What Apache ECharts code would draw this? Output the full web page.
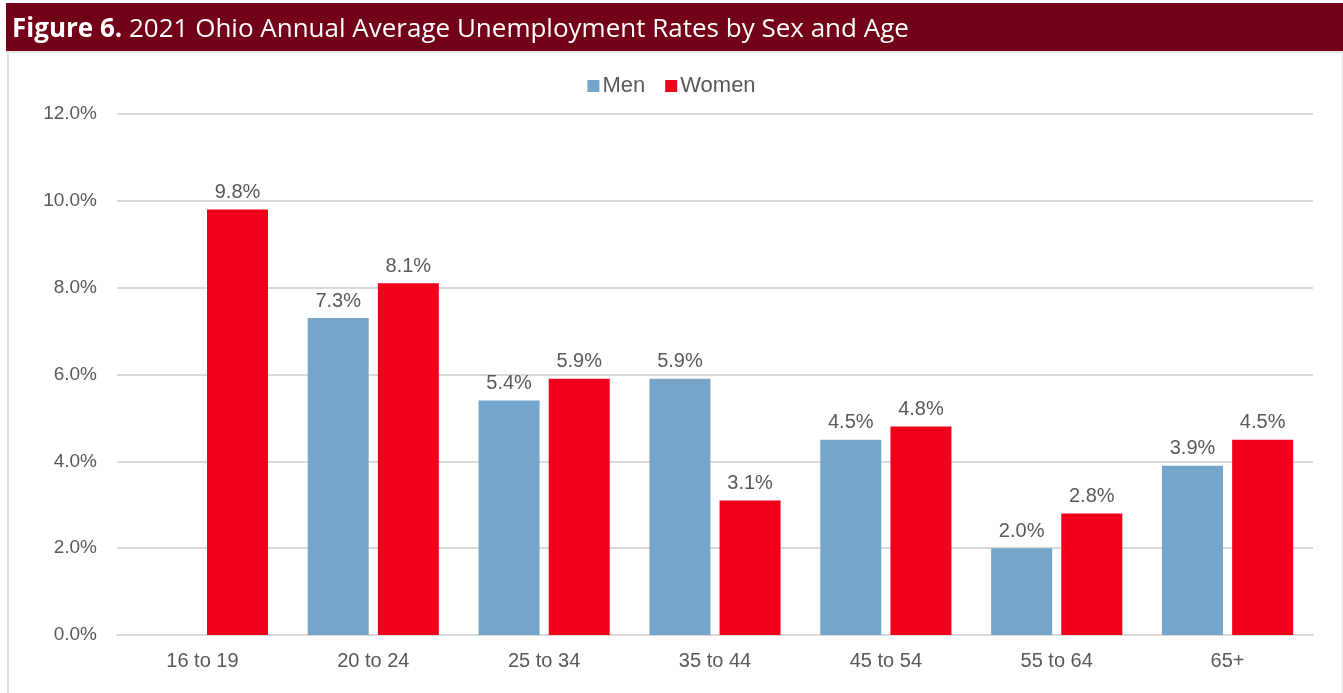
<!DOCTYPE html>
<html>
<head>
<meta charset="utf-8">
<script src="https://cdn.jsdelivr.net/npm/echarts@6/dist/echarts.min.js"></script>
<style>
  html, body { margin: 0; padding: 0; background: #fff; }
  #chart { width: 1343px; height: 693px; }
</style>
</head>
<body>
<div id="chart"></div>
<script>
// Age groups and unemployment rates (%) for 2021
const categories = ['16 to 19', '20 to 24', '25 to 34', '35 to 44', '45 to 54', '55 to 64', '65+'];
const men = [null, 7.3, 5.4, 5.9, 4.5, 2.0, 3.9];
const women = [9.8, 8.1, 5.9, 3.1, 4.8, 2.8, 4.5];
const seriesNames = ['Men', 'Women'];

const FONT = 'Liberation Sans, Arial, sans-serif';

const labelStyle = {
  show: true,
  position: 'top',
  distance: 7,
  color: '#595959',
  fontFamily: FONT,
  fontSize: 20,
  formatter: p => (p.value == null ? '' : p.value.toFixed(1) + '%')
};

const chart = echarts.init(document.getElementById('chart'), null, { renderer: 'canvas' });
chart.setOption({
  backgroundColor: '#fff',
  animation: false,
  graphic: [
    { type: 'rect', shape: { x: 6, y: 3, width: 1337, height: 48 }, style: { fill: '#720019' } },
    { type: 'rect', shape: { x: 6, y: 51, width: 1337, height: 2 }, style: { fill: '#e6e6e6' } },
    { type: 'rect', shape: { x: 7, y: 53, width: 2, height: 640 }, style: { fill: '#dedede' } },
    { type: 'rect', shape: { x: 1341, y: 53, width: 2, height: 640 }, style: { fill: '#eeeeee' } },
    {
      type: 'text', left: 12, top: 17,
      style: {
        text: '{b|Figure 6.} 2021 Ohio Annual Average Unemployment Rates by Sex and Age',
        fill: '#fff', fontSize: 26, fontFamily: 'Open Sans, Noto Sans, sans-serif',
        rich: { b: { fontWeight: 'bold', fontSize: 26, fill: '#fff', fontFamily: 'Open Sans, Noto Sans, sans-serif' } }
      }
    }
  ],
  legend: {
    data: seriesNames,
    top: 70,
    left: 'center',
    itemWidth: 12,
    itemHeight: 12,
    itemGap: 20,
    icon: 'rect',
    textStyle: { color: '#595959', fontSize: 22, fontFamily: FONT, padding: [0, 0, 0, -2] }
  },
  grid: { left: 117, right: 30, top: 114, bottom: 58 },
  xAxis: {
    type: 'category',
    data: categories,
    axisLine: { lineStyle: { color: '#d9d9d9', width: 2 } },
    axisTick: { show: false },
    axisLabel: { color: '#595959', fontSize: 20, margin: 16, fontFamily: FONT }
  },
  yAxis: {
    type: 'value',
    min: 0,
    max: 12,
    interval: 2,
    axisLine: { show: false },
    axisTick: { show: false },
    splitLine: { lineStyle: { color: '#d9d9d9', width: 2 } },
    axisLabel: {
      color: '#595959', fontSize: 19, margin: 20, fontFamily: FONT,
      formatter: v => v.toFixed(1) + '%'
    }
  },
  series: [
    {
      name: seriesNames[0], type: 'bar', data: men,
      barWidth: 61, barGap: '15%',
      itemStyle: { color: '#75a5cb' },
      label: labelStyle
    },
    {
      name: seriesNames[1], type: 'bar', data: women,
      barWidth: 61,
      itemStyle: { color: '#f0001b' },
      label: labelStyle
    }
  ]
});
</script>
</body>
</html>
